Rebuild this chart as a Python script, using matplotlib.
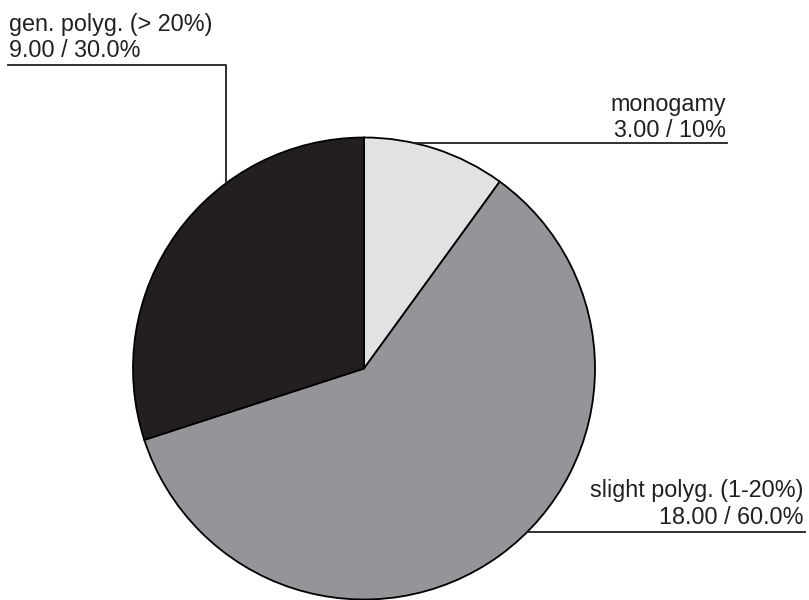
import numpy as np
import matplotlib
matplotlib.use("Agg")
import matplotlib.pyplot as plt

plt.rcParams["font.family"] = ["Liberation Sans", "DejaVu Sans"]

# Mating-system categories and their counts
categories = ["monogamy", "slight polyg. (1-20%)", "gen. polyg. (> 20%)"]
counts = [3.00, 18.00, 9.00]
percent_labels = ["10%", "60.0%", "30.0%"]
colors = ["#e1e2e4", "#939598", "#231f20"]

W, H = 809, 600
fig = plt.figure(figsize=(W / 100, H / 100), dpi=100)
ax = fig.add_axes([0, 0, 1, 1])

cx, cy, r = 364, 600 - 368.5, 231
ink = "#231f20"

ax.pie(counts, colors=colors, startangle=90, counterclock=False,
       center=(cx, cy), radius=r, frame=True,
       wedgeprops=dict(edgecolor="black", linewidth=1.3))
ax.set_xlim(0, W)
ax.set_ylim(0, H)
ax.set_aspect("equal")
ax.axis("off")

fs = 16.8
lw = 1.3


def edge_x(y, side):
    return cx + side * np.sqrt(r ** 2 - (y - cy) ** 2)


def edge_y(x):
    return cy + np.sqrt(r ** 2 - (x - cx) ** 2)


# monogamy: label top right, horizontal leader to the rim
y_m = H - 143
ax.plot([edge_x(y_m, 1), 727], [y_m, y_m], color=ink, lw=lw)
ax.text(726, H - 111, categories[0], ha="right", va="baseline", fontsize=fs, color=ink)
ax.text(726, H - 137, f"{counts[0]:.2f} / {percent_labels[0]}", ha="right",
        va="baseline", fontsize=fs, color=ink)

# slight polygyny: label bottom right
y_s = H - 532
ax.plot([edge_x(y_s, 1), 805], [y_s, y_s], color=ink, lw=lw)
ax.text(804, H - 497, categories[1], ha="right", va="baseline", fontsize=fs, color=ink)
ax.text(804, H - 524, f"{counts[1]:.2f} / {percent_labels[1]}", ha="right",
        va="baseline", fontsize=fs, color=ink)

# general polygyny: label top left, elbow leader down to the rim
y_g = H - 65
x_g = 226
ax.plot([8, x_g, x_g], [y_g, y_g, edge_y(x_g)], color=ink, lw=lw)
ax.text(9, H - 31, categories[2], ha="left", va="baseline", fontsize=fs, color=ink)
ax.text(9, H - 57, f"{counts[2]:.2f} / {percent_labels[2]}", ha="left",
        va="baseline", fontsize=fs, color=ink)

fig.savefig("out.png", dpi=100)
